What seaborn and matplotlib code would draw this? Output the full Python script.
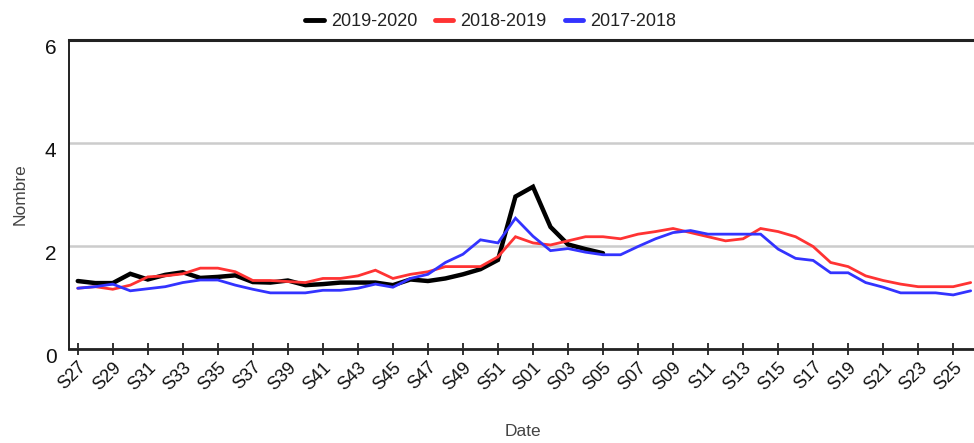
import matplotlib
matplotlib.use("Agg")
import matplotlib.pyplot as plt
import matplotlib.transforms as mtransforms
import numpy as np
import pandas as pd
import seaborn as sns

# Epidemiological weeks, July to June
weeks = [f"S{w}" for w in range(27, 53)] + [f"S{w:02d}" for w in range(1, 27)]

season_2019_2020 = [1.32, 1.28, 1.28, 1.46, 1.35, 1.44, 1.49, 1.38, 1.40, 1.43,
                    1.30, 1.29, 1.33, 1.24, 1.26, 1.29, 1.29, 1.29, 1.24, 1.35,
                    1.32, 1.37, 1.45, 1.55, 1.73, 2.96, 3.15, 2.37, 2.03, 1.94,
                    1.86]

season_2018_2019 = [1.18, 1.21, 1.16, 1.24, 1.40, 1.42, 1.46, 1.57, 1.57, 1.50,
                    1.33, 1.33, 1.31, 1.29, 1.37, 1.37, 1.42, 1.53, 1.37, 1.45,
                    1.50, 1.60, 1.60, 1.60, 1.79, 2.18, 2.06, 2.02, 2.10, 2.18,
                    2.18, 2.14, 2.23, 2.28, 2.34, 2.26, 2.18, 2.10, 2.14, 2.34,
                    2.28, 2.18, 1.99, 1.68, 1.60, 1.42, 1.33, 1.26, 1.21, 1.21,
                    1.21, 1.29]

season_2017_2018 = [1.18, 1.21, 1.26, 1.13, 1.17, 1.21, 1.29, 1.34, 1.34, 1.24,
                    1.16, 1.09, 1.09, 1.09, 1.14, 1.14, 1.18, 1.26, 1.20, 1.37,
                    1.45, 1.68, 1.84, 2.12, 2.06, 2.54, 2.19, 1.91, 1.95, 1.88,
                    1.83, 1.83, 1.99, 2.14, 2.26, 2.30, 2.23, 2.23, 2.23, 2.23,
                    1.94, 1.76, 1.72, 1.48, 1.48, 1.29, 1.20, 1.09, 1.09, 1.09,
                    1.05, 1.13]

series = [
    ("2019-2020", season_2019_2020, "#000000", 3.2),
    ("2018-2019", season_2018_2019, "#FF3333", 2.0),
    ("2017-2018", season_2017_2018, "#3333FF", 2.0),
]

sns.set_theme(style="white")
plt.rcParams["font.family"] = ["Liberation Sans", "DejaVu Sans"]

fig = plt.figure(figsize=(9.74, 4.43), dpi=100)
ax = fig.add_axes([69 / 974, 1 - 349 / 443, 1 - 69 / 974 + 0.002, (349 - 40) / 443])

for name, vals, color, lw in series:
    df = pd.DataFrame({"idx": np.arange(len(vals)), "val": vals})
    sns.lineplot(data=df, x="idx", y="val", ax=ax, color=color, linewidth=lw,
                 label=name, solid_joinstyle="miter")

ax.set_xlim(-0.5, 51.3)
ax.set_ylim(0, 6)
ax.set_yticks([0, 2, 4, 6])
ax.set_yticklabels(["0", "2", "4", "6"], fontsize=15, color="#111111")
ax.tick_params(axis="y", length=0, pad=9)
offset = mtransforms.ScaledTranslation(0, -5 / 72, fig.dpi_scale_trans)
for lab in ax.get_yticklabels():
    lab.set_transform(lab.get_transform() + offset)

ax.yaxis.grid(True, color="#CCCCCC", linewidth=1.8)
ax.xaxis.grid(False)

tick_pos = np.arange(0, len(weeks), 2)
ax.set_xticks(tick_pos)
ax.set_xticklabels([weeks[i] for i in tick_pos], rotation=45, ha="right",
                   rotation_mode="anchor", fontsize=13, color="#111111")
ax.tick_params(axis="x", direction="inout", length=8, width=1.3,
               color="#222222", bottom=True, pad=3)

ax.set_xlabel("Date", fontsize=12.5, color="#444444", labelpad=22)
ax.set_ylabel("Nombre", fontsize=12.5, color="#444444", labelpad=12)

for side in ["left", "bottom"]:
    ax.spines[side].set_visible(True)
    ax.spines[side].set_color("#222222")
ax.spines["left"].set_linewidth(1.4)
ax.spines["bottom"].set_linewidth(2.0)
ax.spines["top"].set_visible(True)
ax.spines["top"].set_color("#222222")
ax.spines["top"].set_linewidth(2.2)
ax.spines["right"].set_visible(False)

leg = ax.legend(loc="upper center", bbox_to_anchor=(0.465, 1.14), ncol=3,
                frameon=False, fontsize=13, handlelength=1.0,
                handletextpad=0.4, columnspacing=1.0)
for line in leg.get_lines():
    line.set_linewidth(3.5)
for t in leg.get_texts():
    t.set_color("#222222")

fig.savefig("out.png", dpi=100)
